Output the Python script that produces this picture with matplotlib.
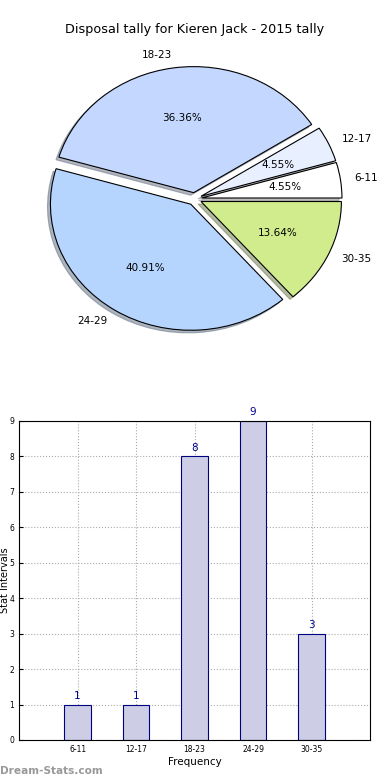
import matplotlib
matplotlib.use("Agg")
import matplotlib.pyplot as plt

categories = ["6-11", "12-17", "18-23", "24-29", "30-35"]
counts = [1, 1, 8, 9, 3]
pie_colors = ["#ffffff", "#e8f0ff", "#c4d8ff", "#b5d5ff", "#d0ec8c"]
title = "Disposal tally for Kieren Jack - 2015 tally"

fig = plt.figure(figsize=(3.9, 7.8), dpi=100)
fig.text(0.5, 1 - 30 / 780, title, ha="center", va="center", fontsize=9.2)

ax1 = fig.add_axes([0.049, 0.543, 0.9, 0.404])
wedges, texts, autotexts = ax1.pie(
    counts, labels=categories, colors=pie_colors, autopct="%.2f%%",
    explode=[0.05] * len(counts),
    shadow={"ox": -0.015, "oy": -0.015, "shade": 0.5}, startangle=0,
    labeldistance=1.1, pctdistance=0.6,
    wedgeprops=dict(edgecolor="black", linewidth=0.8),
    textprops=dict(fontsize=7.5))
ax1.set_aspect("auto")
ax1.set_xlim(-1.25, 1.25)
ax1.set_ylim(-1.25, 1.25)

ax2 = fig.add_axes([0.049, 0.0513, 0.9, 0.409])
x = list(range(len(categories)))
bars = ax2.bar(x, counts, width=0.45, color="#cdcde6", edgecolor="#000080",
               linewidth=0.8, zorder=2)
for xi, c in zip(x, counts):
    ax2.text(xi, c + 0.1, str(c), ha="center", va="bottom", fontsize=7.5,
             color="#00008b")
ax2.set_xlim(-1, 5)
ax2.set_ylim(0, 9)
ax2.set_xticks(x)
ax2.set_xticklabels(categories)
ax2.set_yticks(range(10))
ax2.tick_params(labelsize=5.5, direction="in", length=3)
ax2.grid(True, linestyle=":", color="#aaaaaa", linewidth=0.8, zorder=0)
ax2.set_axisbelow(True)
ax2.set_xlabel("Frequency", fontsize=7.5, labelpad=2)
ax2.set_ylabel("Stat Intervals", fontsize=7, va="center")
ax2.yaxis.set_label_coords(-0.041, 0.5)

fig.text(0.0, 1 - 771 / 780, "Dream-Stats.com", ha="left", va="center",
         fontsize=7.6, color="#999999", fontweight="bold")

fig.savefig("out.png", dpi=100)
